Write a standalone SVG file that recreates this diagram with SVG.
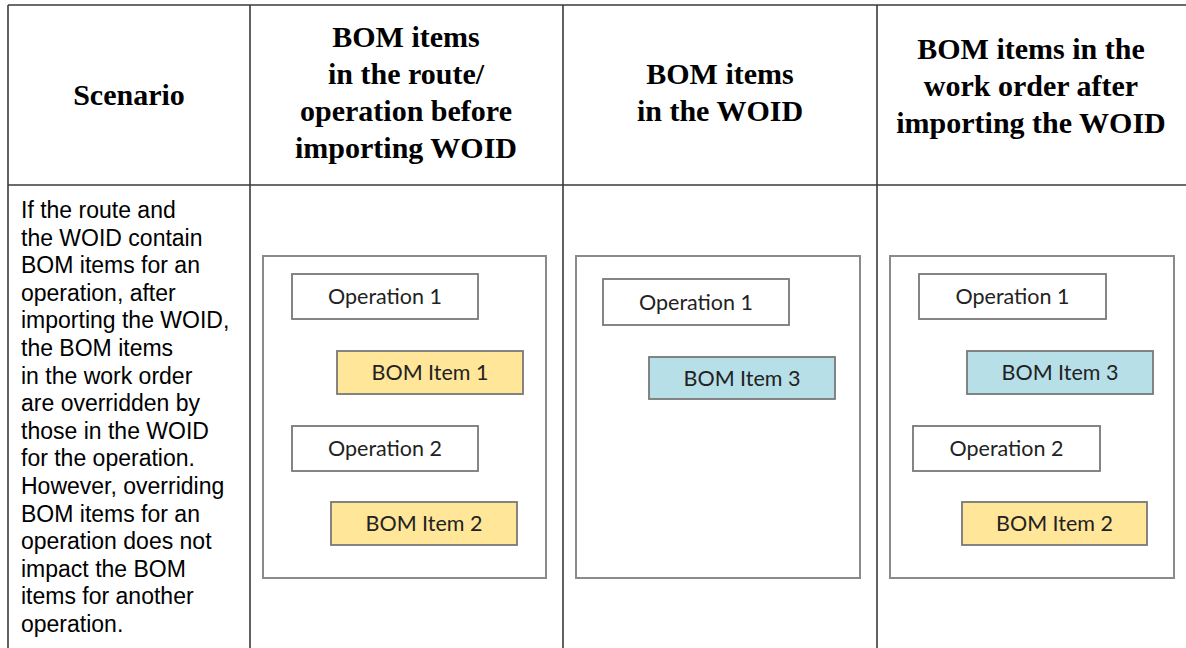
<svg xmlns="http://www.w3.org/2000/svg" width="1186" height="648" viewBox="0 0 1186 648">
<style>
.grid{stroke:#3a3a3a;stroke-width:1.6;fill:none}
.hd{font-family:"Liberation Serif","Times New Roman",serif;font-weight:bold;font-size:30px;fill:#000;text-anchor:middle}
.sc{font-family:"Liberation Sans",Arial,sans-serif;font-size:23px;fill:#000}
.panel{fill:#fff;stroke:#8a8a8a;stroke-width:2}
.op{fill:#fff;stroke:#787878;stroke-width:1.8}
.bomy{fill:#ffe699;stroke:#787878;stroke-width:1.8}
.bomb{fill:#b7dfe8;stroke:#787878;stroke-width:1.8}
.lbl{font-family:Lato,"Open Sans",sans-serif;font-size:21.5px;fill:#222;text-anchor:middle}
</style>
<rect width="1186" height="648" fill="#fff"/>
<g id="table-grid" class="grid">
<line x1="8" y1="5" x2="1186" y2="5"/>
<line x1="8" y1="185" x2="1186" y2="185"/>
<line x1="8" y1="5" x2="8" y2="648"/>
<line x1="250" y1="5" x2="250" y2="648"/>
<line x1="563" y1="5" x2="563" y2="648"/>
<line x1="877" y1="5" x2="877" y2="648"/>
</g>
<g id="headers">
<text class="hd" x="129" y="105">Scenario</text>
<text class="hd" x="406" y="47">BOM items</text>
<text class="hd" x="406" y="84">in the route/</text>
<text class="hd" x="406" y="121">operation before</text>
<text class="hd" x="406" y="158">importing WOID</text>
<text class="hd" x="720" y="84">BOM items</text>
<text class="hd" x="720" y="121">in the WOID</text>
<text class="hd" x="1031" y="59">BOM items in the</text>
<text class="hd" x="1031" y="96">work order after</text>
<text class="hd" x="1031" y="133">importing the WOID</text>
</g>
<g id="scenario-text">
<text class="sc" x="21" y="218">If the route and</text>
<text class="sc" x="21" y="245.6">the WOID contain</text>
<text class="sc" x="21" y="273.2">BOM items for an</text>
<text class="sc" x="21" y="300.8">operation, after</text>
<text class="sc" x="21" y="328.4">importing the WOID,</text>
<text class="sc" x="21" y="356">the BOM items</text>
<text class="sc" x="21" y="383.6">in the work order</text>
<text class="sc" x="21" y="411.2">are overridden by</text>
<text class="sc" x="21" y="438.8">those in the WOID</text>
<text class="sc" x="21" y="466.4">for the operation.</text>
<text class="sc" x="21" y="494">However, overriding</text>
<text class="sc" x="21" y="521.6">BOM items for an</text>
<text class="sc" x="21" y="549.2">operation does not</text>
<text class="sc" x="21" y="576.8">impact the BOM</text>
<text class="sc" x="21" y="604.4">items for another</text>
<text class="sc" x="21" y="632">operation.</text>
</g>
<g id="panel-before">
<rect class="panel" x="263" y="256" width="283" height="322"/>
<g id="before-op1"><rect class="op" x="292" y="274" width="186" height="45"/><text class="lbl" x="385" y="304">Operation 1</text></g>
<g id="before-bom1"><rect class="bomy" x="337" y="351" width="186" height="43"/><text class="lbl" x="430" y="380">BOM Item 1</text></g>
<g id="before-op2"><rect class="op" x="292" y="426" width="186" height="45"/><text class="lbl" x="385" y="456">Operation 2</text></g>
<g id="before-bom2"><rect class="bomy" x="331" y="502" width="186" height="43"/><text class="lbl" x="424" y="531">BOM Item 2</text></g>
</g>
<g id="panel-woid">
<rect class="panel" x="576" y="256" width="284" height="322"/>
<g id="woid-op1"><rect class="op" x="603" y="279" width="186" height="46"/><text class="lbl" x="696" y="310">Operation 1</text></g>
<g id="woid-bom3"><rect class="bomb" x="649" y="357" width="186" height="42"/><text class="lbl" x="742" y="386">BOM Item 3</text></g>
</g>
<g id="panel-after">
<rect class="panel" x="890" y="256" width="284" height="322"/>
<g id="after-op1"><rect class="op" x="919" y="274" width="187" height="45"/><text class="lbl" x="1012.5" y="304">Operation 1</text></g>
<g id="after-bom3"><rect class="bomb" x="967" y="351" width="186" height="43"/><text class="lbl" x="1060" y="380">BOM Item 3</text></g>
<g id="after-op2"><rect class="op" x="913" y="426" width="187" height="45"/><text class="lbl" x="1006.5" y="456">Operation 2</text></g>
<g id="after-bom2"><rect class="bomy" x="962" y="502" width="185" height="43"/><text class="lbl" x="1054.5" y="531">BOM Item 2</text></g>
</g>
<g id="connectors"></g>
</svg>
